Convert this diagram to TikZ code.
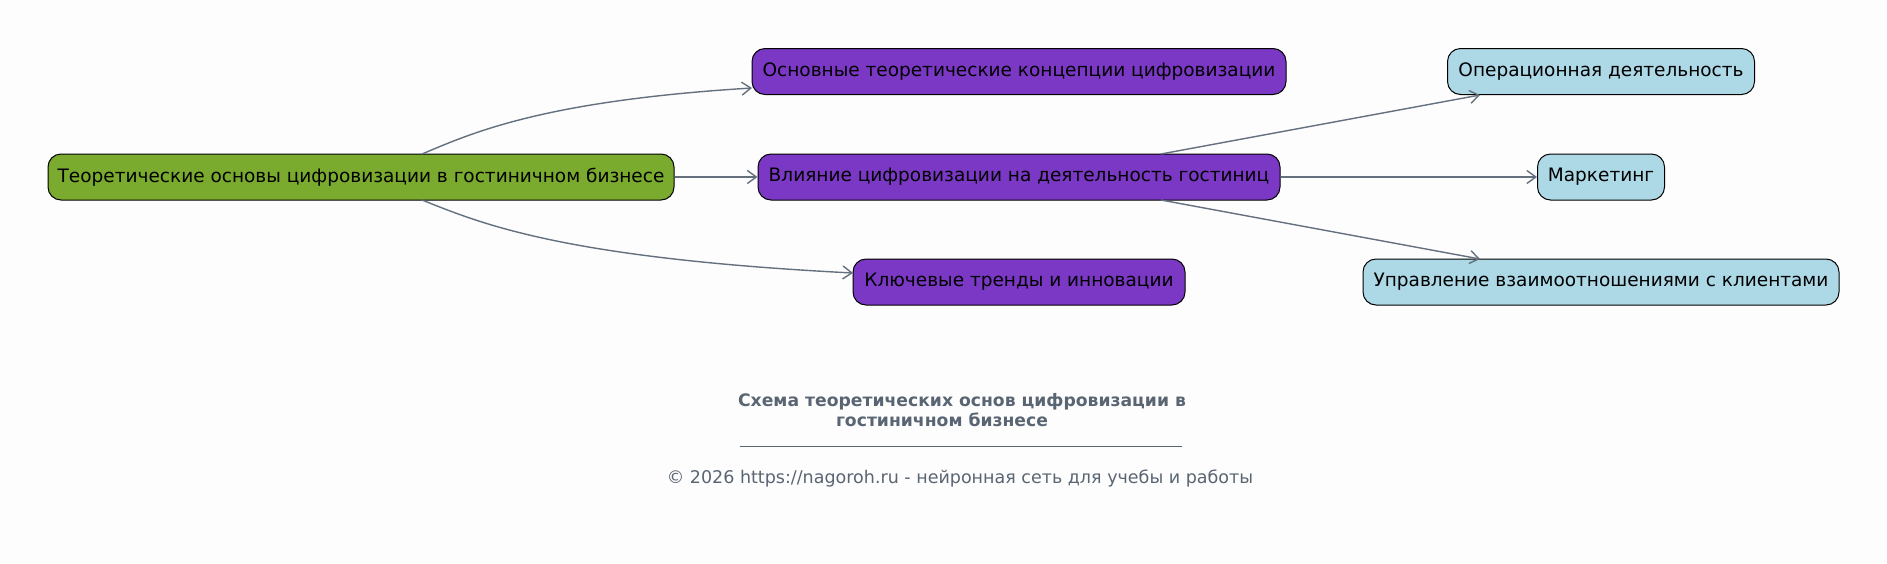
\documentclass[tikz,border=0pt]{standalone}
\usepackage{fontspec}
\setmainfont{DejaVu Sans}
\usetikzlibrary{arrows.meta}
\definecolor{bgc}{HTML}{FDFDFD}
\definecolor{rootc}{HTML}{7AAA2E}
\definecolor{purp}{HTML}{7A38C4}
\definecolor{lblue}{HTML}{ADD8E6}
\definecolor{edgec}{HTML}{64707E}
\definecolor{titlec}{HTML}{5A6573}
\tikzset{
  box/.style={draw=black, line width=1pt, rounded corners=13pt, minimum height=46pt, inner sep=0pt, font=\fontsize{18.5}{21}\selectfont, text=black},
  rootbox/.style={box, fill=rootc},
  midbox/.style={box, fill=purp},
  leafbox/.style={box, fill=lblue},
  conn/.style={draw=edgec, line width=1.4pt, -{Straight Barb[length=9pt,width=13pt,line width=1.4pt]}}
}
\begin{document}
\begin{tikzpicture}[x=1pt,y=-1pt]
\fill[bgc] (0,0) rectangle (1887,563);
\useasboundingbox (0,0) rectangle (1887,563);
\node[rootbox, minimum width=626pt] (root) at (361,177) {Теоретические основы цифровизации в гостиничном бизнесе};
\node[midbox, minimum width=534pt] (a) at (1019,71.5) {Основные теоретические концепции цифровизации};
\node[midbox, minimum width=522pt] (b) at (1019,177) {Влияние цифровизации на деятельность гостиниц};
\node[midbox, minimum width=332pt] (c) at (1019,282) {Ключевые тренды и инновации};
\node[leafbox, minimum width=307pt] (d) at (1601,71.5) {Операционная деятельность};
\node[leafbox, minimum width=127pt] (e) at (1601,177) {Маркетинг};
\node[leafbox, minimum width=476pt] (f) at (1601,282) {Управление взаимоотношениями с клиентами};
\coordinate (rt) at (422,154);
\coordinate (rb) at (422,200);
\coordinate (bt) at (1161,154);
\coordinate (bb) at (1161,200);
\coordinate (at) at (752,88);
\coordinate (ct) at (853,273);
\coordinate (dt) at (1480,95);
\coordinate (ft) at (1480,259);
\draw[conn] (rt) .. controls (470,134) and (540,101) .. (at);
\draw[conn] (rb) .. controls (480,223) and (560,258) .. (ct);
\draw[conn] (root) -- (b);
\draw[conn] (bt) -- (dt);
\draw[conn] (b) -- (e);
\draw[conn] (bb) -- (ft);
\node[font=\bfseries\fontsize{17.2}{20}\selectfont, text=titlec, align=center] (title) at (962,410) {Схема теоретических основ цифровизации в\\гостиничном бизнесе\hspace*{40pt}};
\draw[titlec, line width=0.9pt] (740,446) -- (1182,446);
\node[font=\fontsize{17.5}{20}\selectfont, text=titlec] (copy) at (960,479) {© 2026 https://nagoroh.ru - нейронная сеть для учебы и работы};
\end{tikzpicture}
\end{document}
